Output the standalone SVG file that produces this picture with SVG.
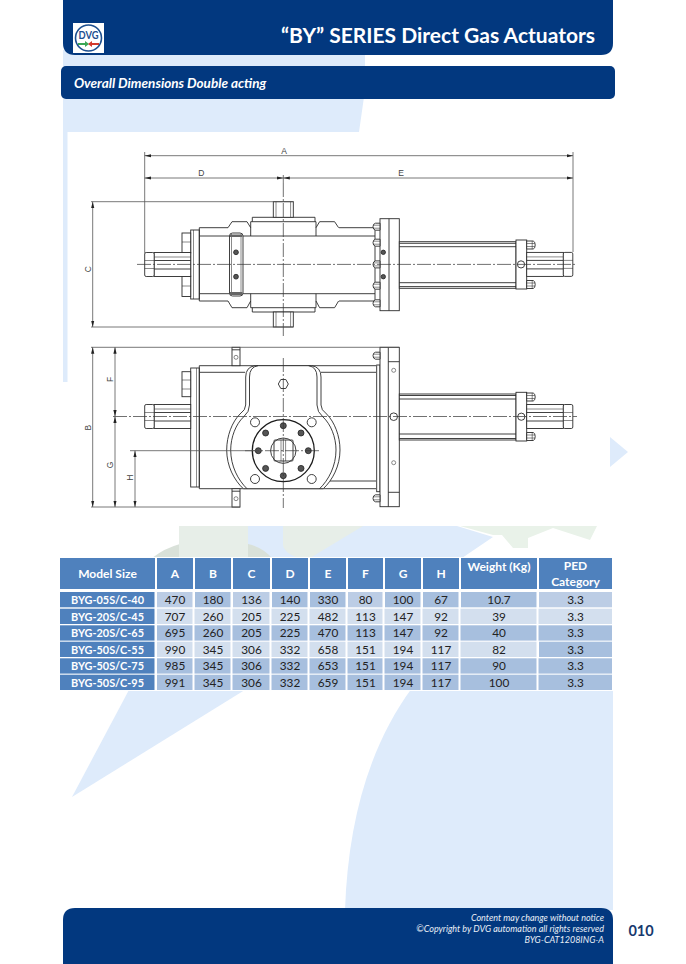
<svg xmlns="http://www.w3.org/2000/svg" width="686" height="964" viewBox="0 0 686 964">
<style>
text{font-family:Lato,"Liberation Sans",sans-serif}
.bar{fill:#02387f}
.bg{fill:#deebfb}
.wm{fill:#e7eee8}
.wg{fill:#e9f2e9}
.wd{fill:#d9e1d9}
.l{fill:none;stroke:#2b2b2b;stroke-width:.9}
.t{fill:none;stroke:#2b2b2b;stroke-width:.55}
.w{fill:#fff;stroke:#2b2b2b;stroke-width:.9}
.dk{fill:#555;stroke:#222;stroke-width:.8}
.c{fill:none;stroke:#333;stroke-width:.7;stroke-dasharray:14 2 2 2}
.d{fill:none;stroke:#555;stroke-width:.8}
.da{marker-start:url(#ar);marker-end:url(#ar)}
.dl{font-family:"Liberation Sans",Arial,sans-serif;font-size:8.5px;fill:#444;text-anchor:middle}
.hc{fill:#4f81bd}.r1{fill:#a7bfde}.r2{fill:#d3dfee}.r3{fill:#bccde5}
.th{font-size:12px;font-weight:700;fill:#fff;text-anchor:middle}
.m{font-size:10.9px;font-weight:700;fill:#fff;text-anchor:middle}
.v{font-size:11.8px;fill:#222;text-anchor:middle}
.f{font-size:9px;font-style:italic;fill:#e8eef6;text-anchor:end}
</style>
<defs>
<marker id="ar" markerWidth="7" markerHeight="4" refX="6.5" refY="2" orient="auto-start-reverse" markerUnits="userSpaceOnUse"><path d="M0 .4L6.5 2L0 3.6z" fill="#222"/></marker>
<g id="boltL"><path class="w" d="M7 -3.5H2.5Q0 -3 0 0Q0 3 2.5 3.5H7z"/><path class="t" d="M0.5 -1.5H7M0.5 1.5H7"/></g>
<g id="boltR"><path class="w" d="M0 -4H6.5Q8.5 -3.5 8.5 0Q8.5 3.5 6.5 4H0z"/><path class="t" d="M0 -1.5H8M0 1.5H8M5.5 -4V4"/></g>
<g id="nut"><rect class="w" x="0" y="-12" width="9.5" height="24" rx="1.5"/><path class="t" d="M0 -4H9.5M0 4H9.5"/></g>
<g id="rod"><rect class="w" x="0" y="-12" width="36.7" height="24"/><path class="l" d="M0 -4H36.7M0 4.5H36.7"/><path class="t" d="M0 -7.5H36.7"/></g>
<g id="lug"><rect class="w" x="-4" y="0" width="8" height="18.4"/><path class="l" d="M-4 2.5H4"/><circle class="t" cx="0" cy="10" r="2"/></g>
<circle id="bh" class="dk" r="3"/>
</defs>

<g id="background">
<rect class="bg" x="63" y="50" width="302" height="18"/>
<path class="bg" d="M63 97H364L359 132H63z"/>
<rect class="bg" x="63" y="130" width="4.5" height="252"/>
<path class="bg" d="M248 526H457L493 537L462 558H248z"/>
<path class="wd" d="M152 558Q165 548 180 544H248Q262 547 272 558z"/>
<rect class="wm" x="179" y="526" width="69" height="31"/>
<path class="wm" d="M283 526H363L310 558H298Q283 552 283 545z"/>
<path class="wg" d="M460 526H597L590 540L553 528L528 538V548H513L502 535L493 535z"/>
<path class="bg" d="M72 797L130 688H248z"/>
<path class="bg" d="M412 688H613V910H345C348 820 370 745 412 688z"/>
<path class="bg" d="M610 437L628 452L610 467z"/>
</g>

<g id="header">
<path class="bar" d="M63 0H613V43Q613 55 601 55H75Q63 55 63 43z"/>
<rect x="73" y="23" width="31" height="30" fill="#fff"/>
<circle cx="88.5" cy="38" r="13" fill="#fff" stroke="#1d4f8f" stroke-width="1.6"/>
<text x="88.5" y="39" font-size="11" font-weight="700" fill="#1d4f8f" text-anchor="middle" textLength="20" lengthAdjust="spacingAndGlyphs">DVG</text>
<path d="M78 43H85V41L89 44L85 47V45H78z" fill="#3aa655"/>
<path d="M99 43H92V41L88 44L92 47V45H99z" fill="#d33a2c"/>
<text x="595" y="43" font-size="21" font-weight="700" fill="#fff" text-anchor="end">“BY” SERIES Direct Gas Actuators</text>
</g>
<g id="subtitle">
<rect class="bar" x="61" y="66" width="554" height="33" rx="5"/>
<text x="74" y="88" font-size="13.5" font-weight="700" font-style="italic" fill="#fff">Overall Dimensions Double acting</text>
</g>

<g id="top-view">
<path class="l" d="M199.3 227.7H228M339 227.7H375M199.3 301H228M339 301H375M199.3 236H375M199.3 293.7H375M375 228V301"/>
<rect class="w" x="190.7" y="230" width="8.6" height="69"/>
<path class="t" d="M193.5 230V299"/>
<path class="l" d="M199.3 227.7V301"/>
<rect class="w" x="182" y="233" width="8.7" height="20"/><path class="t" d="M182 242H190.7"/>
<rect class="w" x="182" y="276" width="8.7" height="20.5"/><path class="t" d="M182 286H190.7"/>
<use href="#rod" transform="translate(154 264.5)"/>
<use href="#nut" transform="translate(144.7 264.5)"/>
<path class="l" d="M228 227.7L232 221.7H247L250.7 227.7M338.6 227.7L334.6 221.7H319.6L316 227.7M250.7 221.7H316M252.3 221.7V217.3H315V221.7M250.7 221.7V236M316 221.7V236"/>
<path class="l" d="M228 301L232 307.7H247L250.7 301M338.6 301L334.6 307.7H319.6L316 301M250.7 307.7H316M252.3 307.7V312H315V307.7M250.7 307.7V293.7M316 307.7V293.7"/>
<rect class="w" x="273.3" y="201.7" width="20" height="15.6"/>
<rect class="w" x="273.3" y="312" width="20" height="15"/>
<path class="t" d="M276 201.7V217M290.6 201.7V217M276 312V327M290.6 312V327"/>
<rect class="w" x="229.5" y="233" width="13.5" height="63" rx="3"/>
<path class="t" d="M231.5 234V295M241 234V295"/>
<path d="M230 234.5H242.5V237H230zM230 292H242.5V295H230z" fill="#666"/>
<circle class="dk" cx="236" cy="252.3" r="2.4"/><circle class="dk" cx="236" cy="276.7" r="2.4"/>
<rect class="w" x="380" y="218.7" width="19.3" height="92"/>
<path class="l" d="M389 218.7V310.7"/>
<use href="#boltL" transform="translate(373 226.7)"/>
<use href="#boltL" transform="translate(373 242.7)"/>
<use href="#boltL" transform="translate(373 264.4)"/>
<use href="#boltL" transform="translate(373 285.7)"/>
<use href="#boltL" transform="translate(373 303.3)"/>
<circle class="dk" cx="383.3" cy="252.3" r="2.2"/><circle class="dk" cx="383.3" cy="276.7" r="2.2"/>
<rect class="w" x="399.3" y="241.7" width="116.7" height="46.6"/>
<path class="l" d="M399.3 243.3H516M399.3 246.7H516M399.3 282.7H516M399.3 286.6H516"/>
<rect class="w" x="516" y="240" width="10.7" height="49"/>
<use href="#boltR" transform="translate(526.7 245)"/>
<use href="#boltR" transform="translate(526.7 284.5)"/>
<circle class="w" cx="521" cy="264.4" r="3.6"/>
<use href="#rod" transform="translate(526.7 264.4)"/>
<use href="#nut" transform="translate(563.3 264.4)"/>
<path class="c" d="M137 264.4H577"/>
<path class="c" d="M283.3 183V336"/>
</g>

<g id="bottom-view">
<path class="l" d="M199.3 365.7H376M199.3 372.3H245M321 372.3H376M199.3 488.7H376M321 481H376"/>
<rect class="w" x="190.7" y="368" width="8.6" height="119"/>
<path class="t" d="M196.5 368V487"/>
<path class="l" d="M199.3 365.7V488.7"/>
<rect class="w" x="182" y="371.7" width="8.7" height="25"/><path class="t" d="M182 380H190.7M182 389H190.7"/>
<use href="#rod" transform="translate(154 416.5)"/>
<use href="#nut" transform="translate(144.7 416.5)"/>
<use href="#lug" transform="translate(236 347.3)"/>
<use href="#lug" transform="translate(236 488.7)"/>
<path class="w" d="M255 365.7Q245.7 367 245.7 377V405Q245.7 410 240 414C232 422 226.7 436 226.7 450C226.7 466 234 480 243.3 488.7H323.3C332.6 480 340 466 340 450C340 436 334.6 422 326.6 414Q321 410 321 405V377Q321 367 311.6 365.7z"/>
<path class="l" d="M258 365.7Q249.5 367 249.5 377V405Q249.5 412 243.5 417C236 424 230.7 437 230.7 450C230.7 466 238 480 247 488.7M308.6 365.7Q317 367 317 377V405Q317 412 323 417C330.6 424 336 437 336 450C336 466 328.6 480 319.6 488.7"/>
<path class="l" d="M278.3 384L280.8 379.5H285.8L288.3 384L285.8 388.5H280.8z"/>
<circle class="w" cx="255" cy="422.3" r="4.5"/><circle class="w" cx="311.7" cy="422.3" r="4.5"/>
<circle class="w" cx="255" cy="479" r="4.5"/><circle class="w" cx="311.7" cy="479" r="4.5"/>
<circle cx="283.3" cy="450.7" r="31" fill="#fff" stroke="#1c1c1c" stroke-width="1.3"/>
<circle class="l" cx="283.3" cy="450.7" r="12.7"/>
<rect class="l" x="274" y="440" width="19" height="21" rx="1"/>
<path class="t" d="M281 440V461M285.6 440V461"/>
<use href="#bh" x="283.3" y="425.7"/><use href="#bh" x="283.3" y="475.7"/>
<use href="#bh" x="258.3" y="450.7"/><use href="#bh" x="308.3" y="450.7"/>
<use href="#bh" x="265.6" y="433"/><use href="#bh" x="301" y="433"/>
<use href="#bh" x="265.6" y="468.4"/><use href="#bh" x="301" y="468.4"/>
<rect class="l" x="376.7" y="365" width="3.3" height="126.7"/>
<rect class="w" x="380" y="347.3" width="19.3" height="159.4"/>
<path class="l" d="M388.3 347.3V506.7M388.3 361.7H399.3M388.3 492.3H399.3"/>
<use href="#boltL" transform="translate(373 355.7)"/>
<use href="#boltL" transform="translate(373 498.3)"/>
<circle class="t" cx="393.7" cy="370.3" r="2"/><circle class="t" cx="393.7" cy="462.7" r="2"/>
<circle class="w" cx="393.7" cy="416.7" r="3.8"/>
<rect class="w" x="399.3" y="394" width="116.7" height="46"/>
<path class="l" d="M399.3 395.5H516M399.3 399H516M399.3 434H516M399.3 438.5H516"/>
<rect class="w" x="516" y="392.3" width="10.7" height="48.7"/>
<use href="#boltR" transform="translate(526.7 397)"/>
<use href="#boltR" transform="translate(526.7 436.5)"/>
<circle class="w" cx="521.3" cy="416.7" r="3.6"/>
<use href="#rod" transform="translate(526.7 416.5)"/>
<use href="#nut" transform="translate(563.3 416.5)"/>
<path class="c" d="M113 416.5H577"/>
<path class="c" d="M283.3 358V508"/>
<path class="c" d="M245 450.7H320"/>
</g>

<g id="dimensions">
<path class="d" d="M144.7 152V253M573 152V252M283.3 175V183M91 201.7H293.3M91 327H293M91 347.3H399M91 507H240M130 450.7H262"/>
<path class="d da" d="M144.7 155.7H573"/>
<path class="d da" d="M144.7 178H283.3"/>
<path class="d da" d="M283.3 178H573"/>
<path class="d da" d="M92.7 201.7V327"/>
<path class="d da" d="M92.7 347.3V507"/>
<path class="d da" d="M115 347.3V416.5"/>
<path class="d da" d="M115 416.5V507"/>
<path class="d da" d="M135 450.7V507"/>
<text class="dl" x="284" y="154">A</text>
<text class="dl" x="201.3" y="176">D</text>
<text class="dl" x="401" y="176">E</text>
<text class="dl" transform="translate(90.5 269.3) rotate(-90)">C</text>
<text class="dl" transform="translate(90.5 427.7) rotate(-90)">B</text>
<text class="dl" transform="translate(113 379.3) rotate(-90)">F</text>
<text class="dl" transform="translate(113 465) rotate(-90)">G</text>
<text class="dl" transform="translate(133 477.7) rotate(-90)">H</text>
</g>

<g id="table">
<rect x="59" y="557" width="554" height="134" fill="#fff"/>
<g class="hc">
<rect x="60" y="558" width="95" height="31"/><rect x="157" y="558" width="36" height="31"/><rect x="195" y="558" width="36" height="31"/><rect x="233" y="558" width="37" height="31"/><rect x="272" y="558" width="36" height="31"/><rect x="310" y="558" width="36" height="31"/><rect x="348" y="558" width="35" height="31"/><rect x="385" y="558" width="36" height="31"/><rect x="423" y="558" width="36" height="31"/><rect x="461" y="558" width="76" height="31"/><rect x="539" y="558" width="73" height="31"/>
<rect x="60" y="592" width="95" height="15.3"/><rect x="60" y="608.7" width="95" height="15.3"/><rect x="60" y="625.3" width="95" height="15.3"/><rect x="60" y="641.7" width="95" height="15.3"/><rect x="60" y="658.3" width="95" height="15.3"/><rect x="60" y="674.7" width="95" height="15.3"/>
</g>
<g class="r1"><rect x="195" y="592" width="36" height="15.3"/><rect x="272" y="592" width="36" height="15.3"/><rect x="310" y="592" width="36" height="15.3"/><rect x="385" y="592" width="36" height="15.3"/><rect x="423" y="592" width="36" height="15.3"/><rect x="461" y="592" width="76" height="15.3"/><rect x="157" y="625.3" width="455" height="15.3"/><rect x="157" y="658.3" width="455" height="15.3"/><rect x="157" y="674.7" width="455" height="15.3"/><rect x="539" y="641.7" width="73" height="15.3"/></g>
<g class="r3"><rect x="157" y="592" width="36" height="15.3"/><rect x="233" y="592" width="37" height="15.3"/><rect x="348" y="592" width="35" height="15.3"/><rect x="539" y="592" width="73" height="15.3"/></g>
<g class="r2"><rect x="157" y="608.7" width="455" height="15.3"/><rect x="157" y="641.7" width="380" height="15.3"/></g>
<path d="M155.5 590V691M193.5 590V691M231.5 590V691M270.5 590V691M308.5 590V691M346.5 590V691M383.5 590V691M421.5 590V691M459.5 590V691M537.5 590V691" stroke="#fff" stroke-width="2" fill="none"/>
<text class="th" x="107.5" y="578">Model Size</text><text class="th" x="175" y="578">A</text><text class="th" x="213" y="578">B</text><text class="th" x="251.5" y="578">C</text><text class="th" x="290" y="578">D</text><text class="th" x="328" y="578">E</text><text class="th" x="365.5" y="578">F</text><text class="th" x="403" y="578">G</text><text class="th" x="441" y="578">H</text><text class="th" x="499" y="571">Weight (Kg)</text><text class="th" x="575.5" y="570">PED</text><text class="th" x="575.5" y="586">Category</text>
<text class="m" x="107.5" y="604">BYG-05S/C-40</text><text class="v" x="175" y="604">470</text><text class="v" x="213" y="604">180</text><text class="v" x="251.5" y="604">136</text><text class="v" x="290" y="604">140</text><text class="v" x="328" y="604">330</text><text class="v" x="365.5" y="604">80</text><text class="v" x="403" y="604">100</text><text class="v" x="441" y="604">67</text><text class="v" x="499" y="604">10.7</text><text class="v" x="575.5" y="604">3.3</text>
<text class="m" x="107.5" y="621">BYG-20S/C-45</text><text class="v" x="175" y="621">707</text><text class="v" x="213" y="621">260</text><text class="v" x="251.5" y="621">205</text><text class="v" x="290" y="621">225</text><text class="v" x="328" y="621">482</text><text class="v" x="365.5" y="621">113</text><text class="v" x="403" y="621">147</text><text class="v" x="441" y="621">92</text><text class="v" x="499" y="621">39</text><text class="v" x="575.5" y="621">3.3</text>
<text class="m" x="107.5" y="637">BYG-20S/C-65</text><text class="v" x="175" y="637">695</text><text class="v" x="213" y="637">260</text><text class="v" x="251.5" y="637">205</text><text class="v" x="290" y="637">225</text><text class="v" x="328" y="637">470</text><text class="v" x="365.5" y="637">113</text><text class="v" x="403" y="637">147</text><text class="v" x="441" y="637">92</text><text class="v" x="499" y="637">40</text><text class="v" x="575.5" y="637">3.3</text>
<text class="m" x="107.5" y="654">BYG-50S/C-55</text><text class="v" x="175" y="654">990</text><text class="v" x="213" y="654">345</text><text class="v" x="251.5" y="654">306</text><text class="v" x="290" y="654">332</text><text class="v" x="328" y="654">658</text><text class="v" x="365.5" y="654">151</text><text class="v" x="403" y="654">194</text><text class="v" x="441" y="654">117</text><text class="v" x="499" y="654">82</text><text class="v" x="575.5" y="654">3.3</text>
<text class="m" x="107.5" y="670">BYG-50S/C-75</text><text class="v" x="175" y="670">985</text><text class="v" x="213" y="670">345</text><text class="v" x="251.5" y="670">306</text><text class="v" x="290" y="670">332</text><text class="v" x="328" y="670">653</text><text class="v" x="365.5" y="670">151</text><text class="v" x="403" y="670">194</text><text class="v" x="441" y="670">117</text><text class="v" x="499" y="670">90</text><text class="v" x="575.5" y="670">3.3</text>
<text class="m" x="107.5" y="687">BYG-50S/C-95</text><text class="v" x="175" y="687">991</text><text class="v" x="213" y="687">345</text><text class="v" x="251.5" y="687">306</text><text class="v" x="290" y="687">332</text><text class="v" x="328" y="687">659</text><text class="v" x="365.5" y="687">151</text><text class="v" x="403" y="687">194</text><text class="v" x="441" y="687">117</text><text class="v" x="499" y="687">100</text><text class="v" x="575.5" y="687">3.3</text>
</g>

<g id="footer">
<path class="bar" d="M75 908H601Q613 908 613 920V964H63V920Q63 908 75 908z"/>
<text class="f" x="604" y="921">Content may change without notice</text>
<text class="f" x="604" y="932">©Copyright by DVG automation all rights reserved</text>
<text class="f" x="604" y="943">BYG-CAT1208ING-A</text>
<text x="641" y="936" font-size="14.5" font-weight="700" fill="#17396e" text-anchor="middle">010</text>
</g>
</svg>
